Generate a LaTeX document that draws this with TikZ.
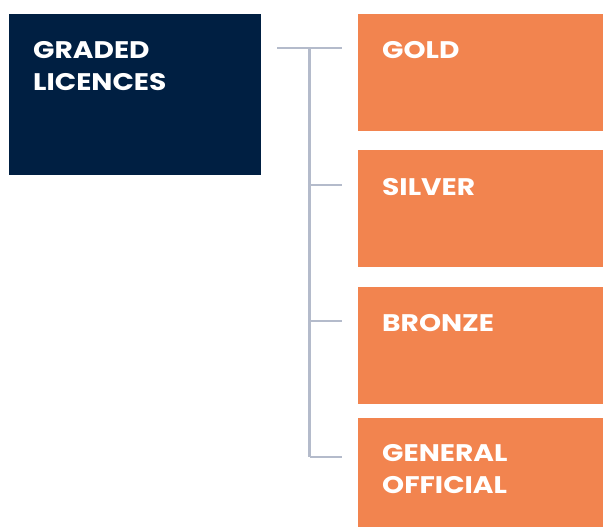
\documentclass[tikz,border=0pt]{standalone}
\usepackage{fontspec}
\setmainfont{Poppins}[FakeStretch=1.17]
\usetikzlibrary{positioning}
\definecolor{navy}{RGB}{0,31,66}
\definecolor{tangerine}{RGB}{242,132,79}
\definecolor{slate}{RGB}{180,187,203}
\tikzset{
  box/.style={rectangle,inner sep=0pt,anchor=north west},
  headbox/.style={box,fill=navy,minimum width=252pt,minimum height=161pt},
  gradebox/.style={box,fill=tangerine,minimum width=245pt,minimum height=117pt},
  lbl/.style={anchor=north west,inner sep=0pt,text=white,align=left,
    font=\fontsize{24}{32}\selectfont\bfseries},
  link/.style={slate,line width=2.5pt}
}
\begin{document}
\begin{tikzpicture}[x=1pt,y=1pt,line cap=butt]
        \useasboundingbox (0,0) rectangle (603,-527);

        \node[headbox] (graded) at (9,-14) {};
        \node[lbl] (gradedlbl) at (33,-41) {GRADED\\LICENCES};

        \node[gradebox] (gold) at (358,-14) {};
        \node[gradebox] (silver) at (358,-150) {};
        \node[gradebox] (bronze) at (358,-287) {};
        \node[gradebox,minimum height=109pt] (general) at (358,-418) {};

        \node[lbl] (goldlbl) at (382,-41) {GOLD};
        \node[lbl] (silverlbl) at (382,-178) {SILVER};
        \node[lbl] (bronzelbl) at (382,-314) {BRONZE};
        \node[lbl] (generallbl) at (382,-444) {GENERAL\\OFFICIAL};

        % tree lines
        \coordinate (top) at (309.5,-48);
        \coordinate (bottom) at (309.5,-457);
        \draw[link] ([xshift=16pt]graded.east |- top) -- ([xshift=-16pt]gold.west |- top);
        \draw[link] (top) -- (bottom);
        \draw[link] (top |- 0,-185) -- ([xshift=-16pt]silver.west |- 0,-185);
        \draw[link] (top |- 0,-321) -- ([xshift=-16pt]bronze.west |- 0,-321);
        \draw[link] (bottom) -- ([xshift=-16pt]general.west |- bottom);
\end{tikzpicture}
\end{document}
